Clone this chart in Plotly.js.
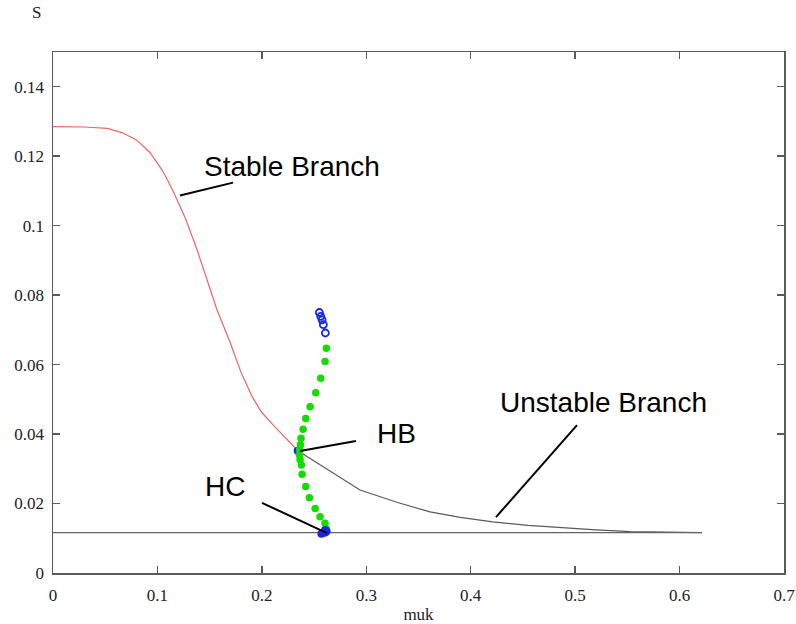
<!DOCTYPE html>
<html>
<head>
<meta charset="utf-8">
<script src="https://cdn.plot.ly/plotly-3.0.1.min.js"></script>
<style>html,body{margin:0;padding:0;background:#fff;}#chart{width:796px;height:624px;}</style>
</head>
<body>
<div id="chart"></div>
<script>
// Stable branch (red)
const stableMuk = [0, 0.03, 0.052, 0.066, 0.080, 0.093, 0.105, 0.115, 0.127, 0.138, 0.148, 0.157, 0.1695, 0.18, 0.1906, 0.20, 0.211, 0.2345];
const stableS   = [0.1285, 0.1284, 0.128, 0.1268, 0.1247, 0.121, 0.1158, 0.110, 0.102, 0.093, 0.084, 0.0758, 0.0665, 0.0578, 0.0508, 0.0462, 0.0426, 0.0352];
// Unstable branch (gray)
const unstableMuk = [0.2345, 0.294, 0.33, 0.361, 0.39, 0.421, 0.455, 0.488, 0.52, 0.553, 0.59, 0.6215];
const unstableS   = [0.0352, 0.0239, 0.0203, 0.0176, 0.0160, 0.0147, 0.0137, 0.0130, 0.0124, 0.0119, 0.0117, 0.0116];
// Horizontal branch
const flatMuk = [0, 0.6215];
const flatS   = [0.0116, 0.0116];
// Periodic orbit (green dots)
const orbitMuk = [0.2618, 0.2605, 0.2564, 0.2516, 0.2462, 0.242, 0.2395, 0.2375, 0.2369, 0.2362, 0.236, 0.2366, 0.2379, 0.2385, 0.242, 0.2455, 0.251, 0.2557, 0.2605, 0.2618];
const orbitS   = [0.0647, 0.0609, 0.0561, 0.0519, 0.0479, 0.0445, 0.0414, 0.0388, 0.0369, 0.0355, 0.034, 0.0326, 0.0311, 0.0284, 0.0249, 0.0217, 0.0186, 0.0162, 0.0143, 0.0127];
// Unstable orbits (blue open circles)
const openMuk = [0.2551, 0.2564, 0.2577, 0.2589, 0.2608];
const openS   = [0.0750, 0.0739, 0.0729, 0.0715, 0.0691];
// Blue filled points: HB and HC
const hbMuk = [0.2343];
const hbS   = [0.0352];
const hcMuk = [0.257, 0.259, 0.261, 0.262, 0.2605];
const hcS   = [0.0113, 0.0115, 0.0117, 0.0120, 0.0124];
// Labels and leader lines
const labelText = ["Stable Branch", "HB", "Unstable Branch", "HC"];
const labelMuk  = [0.1427, 0.3083, 0.4261, 0.1436];
const labelS    = [0.1170, 0.0402, 0.0492, 0.0249];
const leadX0 = [0.1216, 0.2365, 0.5018, 0.2001];
const leadY0 = [0.1087, 0.0351, 0.0426, 0.0202];
const leadX1 = [0.1724, 0.2901, 0.4242, 0.2624];
const leadY1 = [0.1124, 0.0380, 0.0161, 0.0115];
const xTicks = [0, 0.1, 0.2, 0.3, 0.4, 0.5, 0.6, 0.7];
const yTicks = [0, 0.02, 0.04, 0.06, 0.08, 0.1, 0.12, 0.14];

const serif = "'Liberation Serif', 'Times New Roman', Times, serif";
const sans = "'Liberation Sans', Arial, Helvetica, sans-serif";

const traces = [
  {x: stableMuk, y: stableS, mode: 'lines', line: {color: 'rgb(240,100,100)', width: 1.2}},
  {x: unstableMuk, y: unstableS, mode: 'lines', line: {color: 'rgb(90,90,90)', width: 1.2}},
  {x: flatMuk, y: flatS, mode: 'lines', line: {color: 'rgb(100,100,100)', width: 1.2}},
  {x: hbMuk, y: hbS, mode: 'markers', marker: {color: 'rgb(20,40,230)', size: 8}},
  {x: orbitMuk, y: orbitS, mode: 'markers', marker: {color: 'rgb(20,220,0)', size: 7.5}},
  {x: openMuk, y: openS, mode: 'markers', marker: {color: 'rgba(0,0,0,0)', size: 7, line: {color: 'rgb(20,40,230)', width: 1.8}}},
  {x: hcMuk, y: hcS, mode: 'markers', marker: {color: 'rgb(20,40,230)', size: 8}}
];

const shapes = leadX0.map((x0, i) => ({
  type: 'line', xref: 'x', yref: 'y', x0: x0, y0: leadY0[i], x1: leadX1[i], y1: leadY1[i],
  line: {color: 'black', width: 2}
}));

const annotations = labelText.map((t, i) => ({
  text: t, x: labelMuk[i], y: labelS[i], xref: 'x', yref: 'y', xanchor: 'left', yanchor: 'middle',
  showarrow: false, font: {family: sans, size: 28, color: 'black'}
}));
annotations.push({
  text: 'S', xref: 'paper', yref: 'paper', x: -0.022, y: 1.075, xanchor: 'center', yanchor: 'middle',
  showarrow: false, font: {family: serif, size: 17, color: '#222'}
});

const axisCommon = {
  showgrid: false, zeroline: false, showline: true, linecolor: 'rgb(90,90,90)', linewidth: 1.5,
  mirror: 'ticks', ticks: 'inside', ticklen: 7, tickwidth: 1.5, tickcolor: 'rgb(90,90,90)',
  tickfont: {family: serif, size: 17, color: '#222'}
};

const layout = {
  width: 796, height: 624,
  margin: {l: 53, r: 12, t: 52, b: 51},
  paper_bgcolor: 'white', plot_bgcolor: 'white',
  showlegend: false,
  xaxis: Object.assign({}, axisCommon, {range: [0, 0.7], tickvals: xTicks, ticktext: xTicks.map(String),
    ticklabelstandoff: 6,
    title: {text: 'muk', font: {family: serif, size: 17, color: '#222'}, standoff: 4}}),
  yaxis: Object.assign({}, axisCommon, {range: [0, 0.15], tickvals: yTicks, ticktext: yTicks.map(String),
    ticklabelstandoff: 4}),
  shapes: shapes,
  annotations: annotations
};

Plotly.newPlot('chart', traces, layout, {displayModeBar: false, staticPlot: true});
</script>
</body>
</html>
